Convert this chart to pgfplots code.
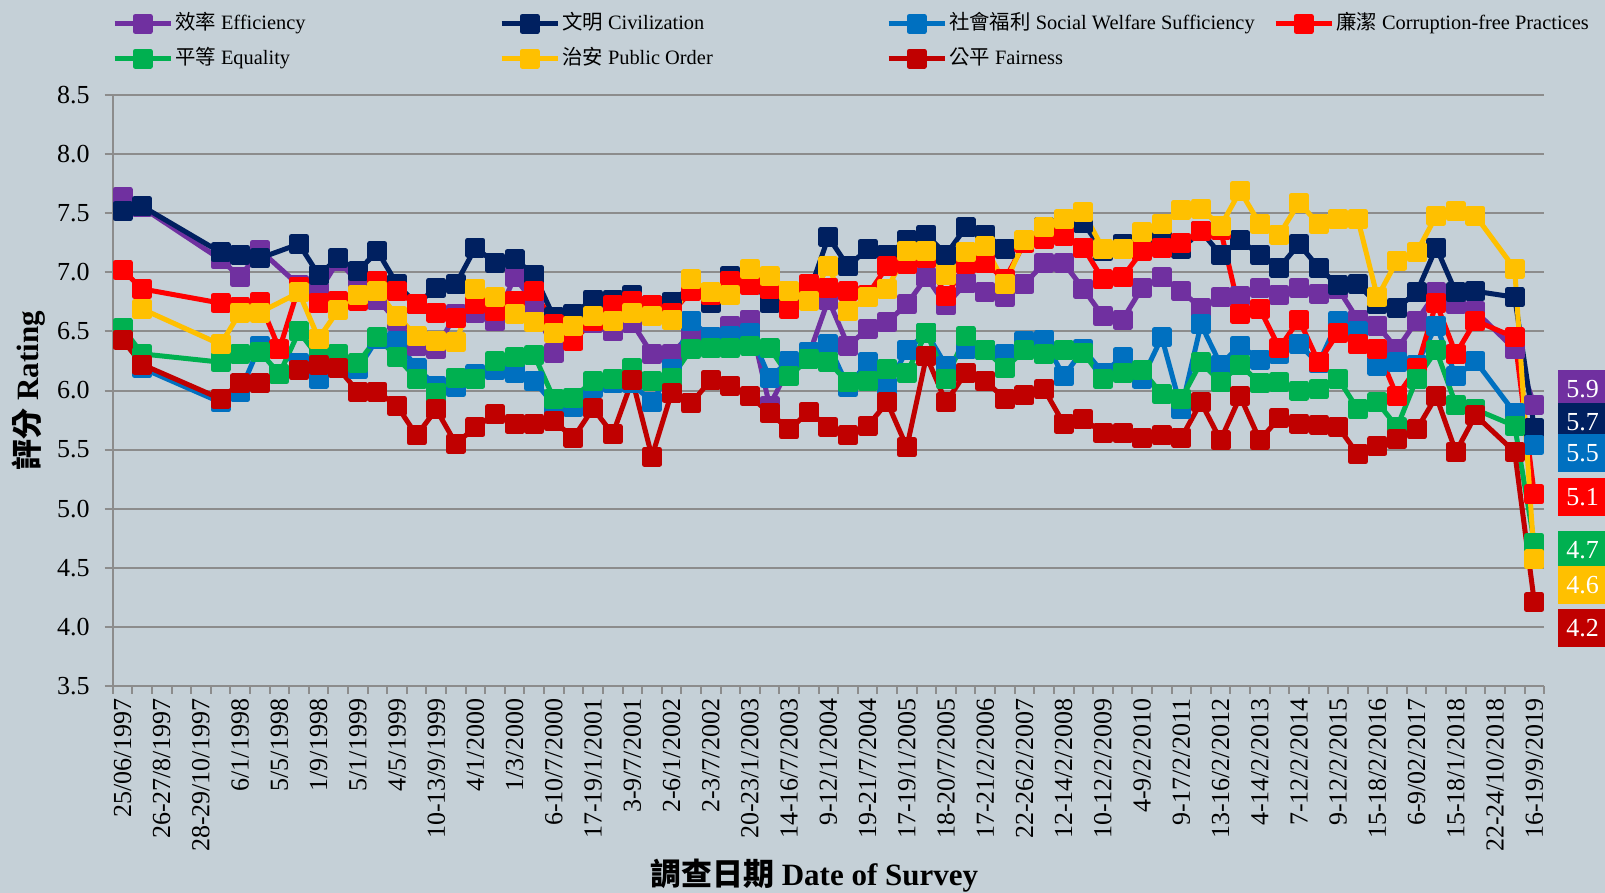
\documentclass[border=0pt]{standalone}
\usepackage{fontspec}
\setmainfont{Liberation Serif}
\newfontfamily\cjk{Noto Sans CJK TC}
\usepackage{pgfplots}
\pgfplotsset{compat=1.18}
\definecolor{bg}{RGB}{197,208,215}
\definecolor{gridc}{RGB}{140,140,140}
\definecolor{cEff}{HTML}{7030A0}
\definecolor{cCiv}{HTML}{002060}
\definecolor{cSW}{HTML}{0070C0}
\definecolor{cCF}{HTML}{FF0000}
\definecolor{cEq}{HTML}{00B050}
\definecolor{cPO}{HTML}{FFC000}
\definecolor{cFair}{HTML}{C00000}
\begin{document}
\begin{tikzpicture}
\fill[bg] (-56.35pt,-103.6pt) rectangle (746.15pt,342.9pt);
\useasboundingbox (-56.35pt,-103.6pt) rectangle (746.15pt,342.9pt);
\begin{axis}[
  at={(0,0)}, anchor=south west,
  scale only axis, width=715.7pt, height=295.3pt,
  xmin=-0.5, xmax=72.5, ymin=3.5, ymax=8.5,
  clip=false,
  axis x line*=bottom, axis y line*=left,
  axis line style={line width=1pt, draw=gridc},
  ymajorgrids, grid style={line width=1pt, draw=gridc},
  ytick={3.5,4.0,4.5,5.0,5.5,6.0,6.5,7.0,7.5,8.0,8.5},
  yticklabel style={/pgf/number format/fixed,/pgf/number format/fixed zerofill,/pgf/number format/precision=1, xshift=-4pt},
  /pgf/number format/assume math mode=true,
  tick align=outside, major tick length=4pt,
  tick style={line width=1pt, draw=gridc},
  tick label style={font=\fontsize{13}{15}\selectfont},
  xtick={-0.5,0.5,...,72.5}, xticklabels={},
  extra x ticks={0,2,...,72},
  extra x tick style={major tick length=0pt},
  extra x tick labels={25/06/1997, 26-27/8/1997, 28-29/10/1997, 6/1/1998, 5/5/1998, 1/9/1998, 5/1/1999, 4/5/1999, 10-13/9/1999, 4/1/2000, 1/3/2000, 6-10/7/2000, 17-19/1/2001, 3-9/7/2001, 2-6/1/2002, 2-3/7/2002, 20-23/1/2003, 14-16/7/2003, 9-12/1/2004, 19-21/7/2004, 17-19/1/2005, 18-20/7/2005, 17-21/2/2006, 22-26/2/2007, 12-14/2/2008, 10-12/2/2009, 4-9/2/2010, 9-17/2/2011, 13-16/2/2012, 4-14/2/2013, 7-12/2/2014, 9-12/2/2015, 15-18/2/2016, 6-9/02/2017, 15-18/1/2018, 22-24/10/2018, 16-19/9/2019},
  xticklabel style={yshift=-3pt, rotate=90, anchor=east},
  every axis plot/.append style={line width=2.5pt, line join=round, mark=square*, mark size=3.75pt, mark options={solid}},
  legend columns=4,
  legend cell align=left,
  legend style={at={(rel axis cs:0,1)}, anchor=north west, xshift=-0.5pt, yshift=41.1pt,
    draw=none, fill=none, inner sep=0pt, row sep=6.9pt,
    font=\fontsize{10.2}{12}\selectfont,
    nodes={inner sep=0pt, text height=8pt, text depth=2.5pt},
    /tikz/every odd column/.append style={column sep=1pt}},
  legend image code/.code={\draw[#1, mark repeat=2, mark phase=2] plot coordinates {(0pt,0pt) (14pt,0pt) (28pt,0pt)};},
]
% Efficiency
\addplot[color=cEff] coordinates {
(0,7.64)(1,7.55)(5,7.11)(6,6.96)(7,7.19)(9,6.89)(10,6.83)(11,7.10)(12,6.92)(13,6.77)(14,6.59)(15,6.38)(16,6.35)(17,6.65)(18,6.66)(19,6.59)(20,6.96)(21,6.74)(22,6.32)(23,6.46)(24,6.57)(25,6.50)(26,6.57)(27,6.31)(28,6.31)(29,6.48)(30,6.45)(31,6.55)(32,6.60)(33,5.87)(34,6.20)(35,6.30)(36,6.77)(37,6.38)(38,6.52)(39,6.58)(40,6.73)(41,6.96)(42,6.72)(43,6.91)(44,6.83)(45,6.79)(46,6.90)(47,7.08)(48,7.08)(49,6.86)(50,6.63)(51,6.60)(52,6.87)(53,6.96)(54,6.84)(55,6.70)(56,6.79)(57,6.80)(58,6.87)(59,6.81)(60,6.87)(61,6.82)(62,6.86)(63,6.60)(64,6.55)(65,6.35)(66,6.59)(67,6.83)(68,6.73)(69,6.67)(71,6.35)(72,5.88)};
\addlegendentry{\makebox[162pt][l]{{\cjk 效率} Efficiency}}
% Civilization
\addplot[color=cCiv] coordinates {
(0,7.52)(1,7.56)(5,7.17)(6,7.15)(7,7.12)(9,7.24)(10,6.98)(11,7.12)(12,7.01)(13,7.18)(14,6.90)(15,6.73)(16,6.87)(17,6.90)(18,7.21)(19,7.08)(20,7.11)(21,6.98)(22,6.62)(23,6.65)(24,6.77)(25,6.77)(26,6.81)(27,6.72)(28,6.75)(29,6.88)(30,6.74)(31,6.97)(32,6.95)(33,6.74)(34,6.80)(35,6.82)(36,7.30)(37,7.05)(38,7.20)(39,7.15)(40,7.27)(41,7.32)(42,7.15)(43,7.38)(44,7.32)(45,7.20)(46,7.26)(47,7.38)(48,7.40)(49,7.42)(50,7.18)(51,7.24)(52,7.29)(53,7.32)(54,7.20)(55,7.35)(56,7.15)(57,7.27)(58,7.15)(59,7.04)(60,7.24)(61,7.04)(62,6.89)(63,6.90)(64,6.73)(65,6.70)(66,6.83)(67,7.21)(68,6.83)(69,6.84)(71,6.79)(72,5.68)};
\addlegendentry{\makebox[162pt][l]{{\cjk 文明} Civilization}}
% Social Welfare
\addplot[color=cSW] coordinates {
(1,6.19)(5,5.90)(6,5.99)(7,6.38)(9,6.23)(10,6.10)(11,6.21)(12,6.18)(13,6.44)(14,6.42)(15,6.19)(16,6.04)(17,6.03)(18,6.14)(19,6.17)(20,6.15)(21,6.08)(22,5.88)(23,5.86)(24,6.02)(25,6.06)(26,6.06)(27,5.90)(28,6.18)(29,6.59)(30,6.45)(31,6.46)(32,6.49)(33,6.11)(34,6.25)(35,6.33)(36,6.39)(37,6.03)(38,6.24)(39,6.03)(40,6.34)(41,6.49)(42,6.21)(43,6.35)(44,6.34)(45,6.31)(46,6.42)(47,6.43)(48,6.12)(49,6.35)(50,6.15)(51,6.28)(52,6.10)(53,6.45)(54,5.84)(55,6.56)(56,6.22)(57,6.38)(58,6.26)(59,6.31)(60,6.39)(61,6.23)(62,6.59)(63,6.50)(64,6.21)(65,6.24)(66,6.22)(67,6.55)(68,6.12)(69,6.25)(71,5.81)(72,5.54)};
\addlegendentry{\makebox[162pt][l]{{\cjk 社會福利} Social Welfare Sufficiency}}
% Corruption-free
\addplot[color=cCF] coordinates {
(0,7.02)(1,6.86)(5,6.74)(6,6.71)(7,6.75)(8,6.35)(9,6.88)(10,6.74)(11,6.76)(12,6.76)(13,6.93)(14,6.84)(15,6.73)(16,6.66)(17,6.61)(18,6.73)(19,6.67)(20,6.76)(21,6.84)(22,6.56)(23,6.42)(24,6.59)(25,6.72)(26,6.76)(27,6.72)(28,6.66)(29,6.84)(30,6.81)(31,6.93)(32,6.89)(33,6.86)(34,6.69)(35,6.90)(36,6.87)(37,6.84)(38,6.81)(39,7.05)(40,7.07)(41,7.12)(42,6.80)(43,7.07)(44,7.08)(45,6.94)(46,7.25)(47,7.28)(48,7.31)(49,7.21)(50,6.94)(51,6.96)(52,7.18)(53,7.21)(54,7.25)(55,7.35)(56,7.36)(57,6.65)(58,6.69)(59,6.36)(60,6.60)(61,6.24)(62,6.49)(63,6.39)(64,6.35)(65,5.95)(66,6.19)(67,6.74)(68,6.31)(69,6.59)(71,6.45)(72,5.12)};
\addlegendentry{{\cjk 廉潔} Corruption-free Practices}
% Equality
\addplot[color=cEq] coordinates {
(0,6.53)(1,6.31)(5,6.24)(6,6.31)(7,6.33)(8,6.14)(9,6.50)(10,6.28)(11,6.31)(12,6.23)(13,6.45)(14,6.28)(15,6.10)(16,5.98)(17,6.11)(18,6.10)(19,6.25)(20,6.28)(21,6.30)(22,5.93)(23,5.94)(24,6.08)(25,6.10)(26,6.19)(27,6.08)(28,6.11)(29,6.35)(30,6.36)(31,6.36)(32,6.38)(33,6.36)(34,6.12)(35,6.27)(36,6.24)(37,6.07)(38,6.08)(39,6.18)(40,6.15)(41,6.49)(42,6.10)(43,6.46)(44,6.34)(45,6.19)(46,6.34)(47,6.31)(48,6.34)(49,6.32)(50,6.10)(51,6.15)(52,6.17)(53,5.97)(54,5.93)(55,6.24)(56,6.07)(57,6.22)(58,6.06)(59,6.07)(60,6.00)(61,6.01)(62,6.10)(63,5.84)(64,5.90)(65,5.69)(66,6.10)(67,6.34)(68,5.88)(69,5.84)(71,5.70)(72,4.71)};
\addlegendentry{\makebox[162pt][l]{{\cjk 平等} Equality}}
% Public Order
\addplot[color=cPO] coordinates {
(1,6.69)(5,6.39)(6,6.66)(7,6.66)(9,6.83)(10,6.44)(11,6.68)(12,6.81)(13,6.84)(14,6.63)(15,6.46)(16,6.42)(17,6.41)(18,6.86)(19,6.79)(20,6.65)(21,6.58)(22,6.49)(23,6.55)(24,6.63)(25,6.59)(26,6.66)(27,6.63)(28,6.60)(29,6.94)(30,6.83)(31,6.81)(32,7.03)(33,6.97)(34,6.84)(35,6.76)(36,7.05)(37,6.67)(38,6.79)(39,6.86)(40,7.18)(41,7.18)(42,6.98)(43,7.17)(44,7.22)(45,6.90)(46,7.27)(47,7.38)(48,7.45)(49,7.51)(50,7.20)(51,7.20)(52,7.34)(53,7.41)(54,7.53)(55,7.54)(56,7.39)(57,7.69)(58,7.41)(59,7.32)(60,7.59)(61,7.41)(62,7.45)(63,7.45)(64,6.79)(65,7.10)(66,7.17)(67,7.48)(68,7.52)(69,7.48)(71,7.03)(72,4.57)};
\addlegendentry{\makebox[162pt][l]{{\cjk 治安} Public Order}}
% Fairness
\addplot[color=cFair] coordinates {
(0,6.43)(1,6.22)(5,5.93)(6,6.06)(7,6.06)(9,6.17)(10,6.22)(11,6.19)(12,5.99)(13,5.99)(14,5.87)(15,5.62)(16,5.84)(17,5.55)(18,5.69)(19,5.80)(20,5.72)(21,5.72)(22,5.74)(23,5.60)(24,5.85)(25,5.63)(26,6.09)(27,5.44)(28,5.98)(29,5.89)(30,6.09)(31,6.04)(32,5.95)(33,5.81)(34,5.67)(35,5.82)(36,5.69)(37,5.62)(38,5.70)(39,5.90)(40,5.52)(41,6.29)(42,5.90)(43,6.15)(44,6.08)(45,5.93)(46,5.96)(47,6.01)(48,5.72)(49,5.76)(50,5.64)(51,5.64)(52,5.60)(53,5.62)(54,5.60)(55,5.90)(56,5.58)(57,5.95)(58,5.58)(59,5.77)(60,5.72)(61,5.71)(62,5.69)(63,5.46)(64,5.53)(65,5.59)(66,5.67)(67,5.95)(68,5.48)(69,5.79)(71,5.48)(72,4.21)};
\addlegendentry{\makebox[162pt][l]{{\cjk 公平} Fairness}}
% end labels
\begin{scope}[every node/.style={text=white, minimum width=24.6pt, minimum height=19pt, inner sep=0pt, font=\fontsize{13}{15}\selectfont}]
\node[fill=cEff] at (axis cs:74.46,6.011) {5.9};
\node[fill=cCiv] at (axis cs:74.46,5.736) {5.7};
\node[fill=cSW] at (axis cs:74.46,5.469) {5.5};
\node[fill=cCF] at (axis cs:74.46,5.101) {5.1};
\node[fill=cEq] at (axis cs:74.46,4.650) {4.7};
\node[fill=cPO] at (axis cs:74.46,4.354) {4.6};
\node[fill=cFair] at (axis cs:74.46,3.987) {4.2};
\end{scope}
\node[font=\fontsize{15.5}{18}\selectfont\bfseries, yshift=-94.8pt] at (rel axis cs:0.49,0) {{\cjk\bfseries 調查日期} Date of Survey};
\node[xshift=-42pt, rotate=90, font=\fontsize{15.5}{18}\selectfont\bfseries] at (rel axis cs:0,0.5) {{\cjk\bfseries 評分} Rating};
\end{axis}
\end{tikzpicture}
\end{document}
